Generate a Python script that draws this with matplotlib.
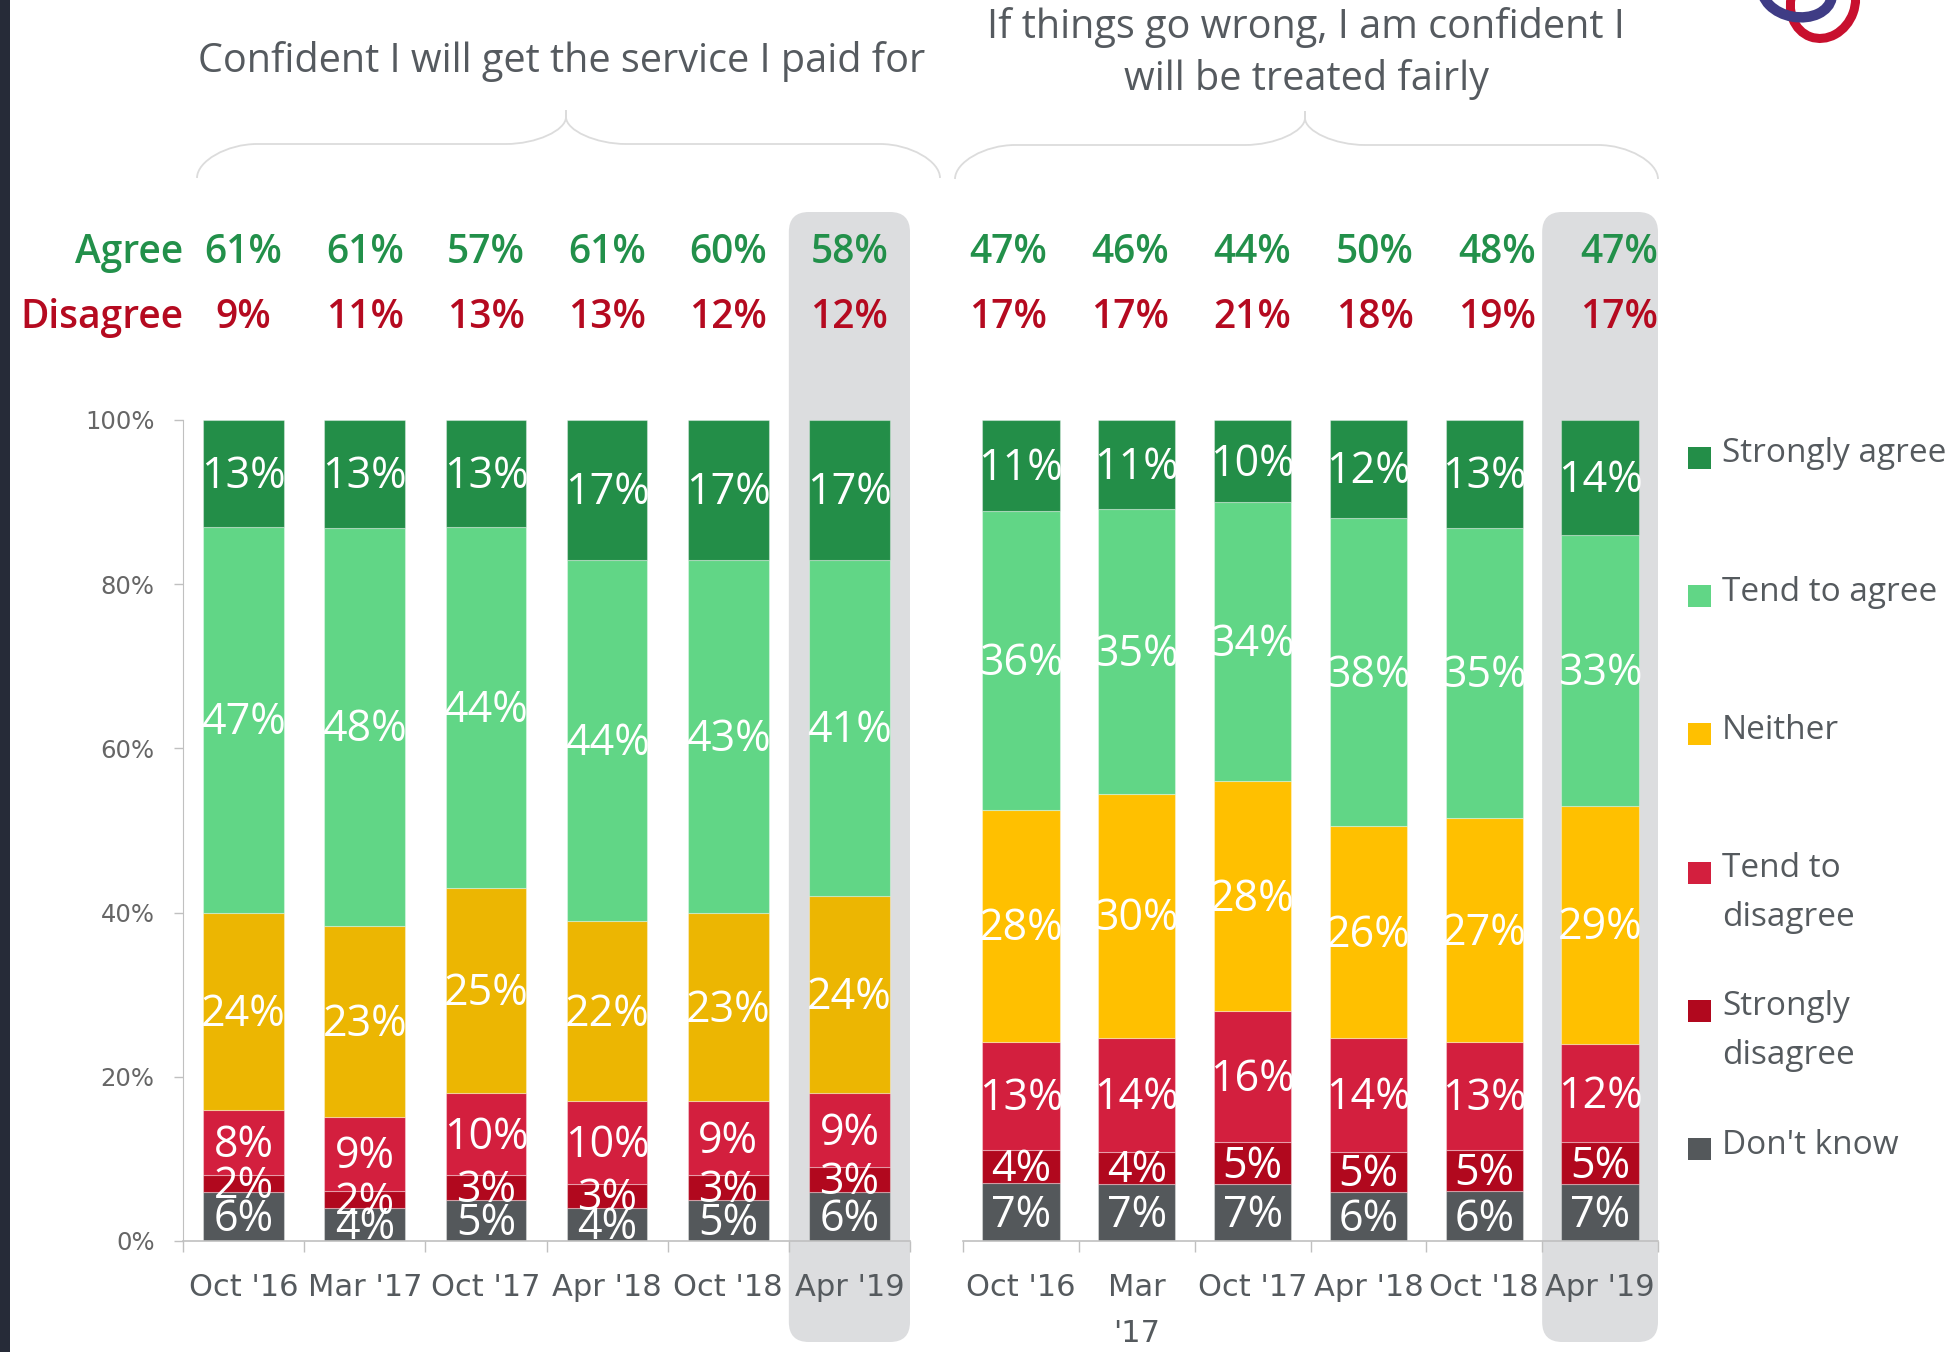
import matplotlib
matplotlib.use('Agg')
import matplotlib.pyplot as plt
import matplotlib.patches as mpatches
from matplotlib.path import Path
import numpy as np

plt.rcParams['font.family'] = ['Open Sans', 'DejaVu Sans']

# ---------------------------------------------------------------
# Data
# ---------------------------------------------------------------
periods = ["Oct '16", "Mar '17", "Oct '17", "Apr '18", "Oct '18", "Apr '19"]
periods_right = ["Oct '16", "Mar\n'17", "Oct '17", "Apr '18", "Oct '18", "Apr '19"]

title_left = "Confident I will get the service I paid for"
title_right = "If things go wrong, I am confident I\nwill be treated fairly"

legend_labels = ['Strongly agree', 'Tend to agree', 'Neither',
                 'Tend to\ndisagree', 'Strongly\ndisagree', "Don't know"]

# Confident I will get the service I paid for
service_strongly_agree = [13, 13, 13, 17, 17, 17]
service_tend_agree = [47, 48, 44, 44, 43, 41]
service_neither = [24, 23, 25, 22, 23, 24]
service_tend_disagree = [8, 9, 10, 10, 9, 9]
service_strongly_disagree = [2, 2, 3, 3, 3, 3]
service_dont_know = [6, 4, 5, 4, 5, 6]
service_agree = [61, 61, 57, 61, 60, 58]
service_disagree = [9, 11, 13, 13, 12, 12]

# If things go wrong, I am confident I will be treated fairly
fair_strongly_agree = [11, 11, 10, 12, 13, 14]
fair_tend_agree = [36, 35, 34, 38, 35, 33]
fair_neither = [28, 30, 28, 26, 27, 29]
fair_tend_disagree = [13, 14, 16, 14, 13, 12]
fair_strongly_disagree = [4, 4, 5, 5, 5, 5]
fair_dont_know = [7, 7, 7, 6, 6, 7]
fair_agree = [47, 46, 44, 50, 48, 47]
fair_disagree = [17, 17, 21, 18, 19, 17]

# colours (top of legend first)
c_sa = '#238e48'
c_ta = '#61d686'
c_ne = '#ffc000'
c_ne_left = '#ecb602'
c_td = '#d31f3e'
c_sd = '#b1081e'
c_dk = '#54585b'
legend_colors = [c_sa, c_ta, c_ne, c_td, c_sd, c_dk]

green_txt = '#22904a'
red_txt = '#b50a20'
grey_txt = '#555a5e'
axis_col = '#c0c0c0'
highlight = '#dcdddf'

W, H = 1953, 1352
fig = plt.figure(figsize=(W / 100, H / 100), dpi=100)

# decoration layer in pixel coordinates
deco = fig.add_axes([0, 0, 1, 1], zorder=0)
deco.set_xlim(0, W)
deco.set_ylim(H, 0)
deco.axis('off')

ax_bottom = 1241
ax_top = 420
axL = fig.add_axes([183 / W, (H - ax_bottom) / H, 727 / W, (ax_bottom - ax_top) / H], zorder=2)
axR = fig.add_axes([963 / W, (H - ax_bottom) / H, 695 / W, (ax_bottom - ax_top) / H], zorder=2)


def draw_group(ax, stacks, colors, labels, agree, disagree, px_width, head_spread=1.0):
    x = np.arange(len(labels))
    totals = np.sum(stacks, axis=0).astype(float)
    bottom = np.zeros(len(labels))
    for vals, col in zip(stacks, colors):
        h = np.array(vals) / totals * 100
        ax.bar(x, h, 0.667, bottom=bottom, color=col,
               edgecolor=(1, 1, 1, 0.35), linewidth=0.8, zorder=2)
        for xi, b, hi, v in zip(x, bottom, h, vals):
            ax.text(xi, b + hi / 2 - 0.4, '%d%%' % v, ha='center', va='center',
                    color='white', fontsize=31, zorder=3)
        bottom += h

    ax.set_xlim(-0.5, 5.5)
    ax.set_ylim(0, 100)
    ax.set_facecolor('none')

    # highlighted latest wave
    px_x = px_width / 6.0
    px_y = (ax_bottom - ax_top) / 100.0
    y0 = (ax_bottom - 1342) / px_y
    y1 = (ax_bottom - 212) / px_y
    box = mpatches.FancyBboxPatch((4.5, y0), 1.0, y1 - y0,
                                  boxstyle='round,pad=0,rounding_size=%f' % (20 / px_x),
                                  mutation_aspect=px_x / px_y,
                                  facecolor=highlight, edgecolor='none',
                                  clip_on=False, zorder=0)
    ax.add_patch(box)

    # agree / disagree totals
    hx = 2.0 + (x - 2.0) * head_spread
    for xi, a, d in zip(hx, agree, disagree):
        ax.text(xi, 119.1, '%d%%' % a, ha='center', va='baseline', color=green_txt,
                fontsize=28, fontweight='semibold', clip_on=False, zorder=3)
        ax.text(xi, 111.2, '%d%%' % d, ha='center', va='baseline', color=red_txt,
                fontsize=28, fontweight='semibold', clip_on=False, zorder=3)

    ax.set_xticks(x)
    ax.set_xticklabels(labels, fontfamily='DejaVu Sans', fontsize=22,
                       color=grey_txt, linespacing=1.75, va='top')
    ax.tick_params(axis='x', which='major', length=0, pad=23)
    ax.set_xticks(np.arange(-0.5, 6, 1), minor=True)
    ax.tick_params(axis='x', which='minor', length=8, width=1, color=axis_col)
    for s in ['top', 'right', 'left']:
        ax.spines[s].set_visible(False)
    ax.spines['bottom'].set_color(axis_col)
    ax.spines['bottom'].set_linewidth(1.2)


draw_group(axL,
           [service_dont_know, service_strongly_disagree, service_tend_disagree,
            service_neither, service_tend_agree, service_strongly_agree],
           [c_dk, c_sd, c_td, c_ne_left, c_ta, c_sa],
           periods, service_agree, service_disagree, 727)
draw_group(axR,
           [fair_dont_know, fair_strongly_disagree, fair_tend_disagree,
            fair_neither, fair_tend_agree, fair_strongly_agree],
           [c_dk, c_sd, c_td, c_ne, c_ta, c_sa],
           periods_right, fair_agree, fair_disagree, 695, head_spread=1.055)

# y axis only on the left chart
axL.spines['left'].set_visible(True)
axL.spines['left'].set_color(axis_col)
axL.set_yticks([0, 20, 40, 60, 80, 100])
axL.set_yticklabels(['0%', '20%', '40%', '60%', '80%', '100%'],
                    fontfamily='DejaVu Sans', fontsize=17.5, color='#666666')
axL.tick_params(axis='y', length=6.5, width=1, color=axis_col, pad=14)
axR.set_yticks([])

axL.text(0.0, 119.1, 'Agree', transform=axL.get_yaxis_transform(), ha='right',
         va='baseline', color=green_txt, fontsize=28, fontweight='semibold', clip_on=False)
axL.text(0.0, 111.2, 'Disagree', transform=axL.get_yaxis_transform(), ha='right',
         va='baseline', color=red_txt, fontsize=28, fontweight='semibold', clip_on=False)

# titles
deco.text(562, 72, title_left, ha='center', va='baseline', fontsize=28.5, color='#555a5f')
for i, line in enumerate(title_right.split('\n')):
    deco.text(1306, 38 + i * 52, line, ha='center', va='baseline', fontsize=28.5, color='#555a5f')


# curly braces above the two groups
def brace(x0, x1, xm, ytop, ymid, ybot, r=60, rc=60):
    k = 0.5
    verts = [(x0, ybot),
             (x0, ybot - (ybot - ymid) * k), (x0 + r * (1 - k), ymid), (x0 + r, ymid),
             (xm - rc, ymid),
             (xm - rc * (1 - k), ymid), (xm, ymid - (ymid - ytop - 7) * (1 - k)), (xm, ytop + 7),
             (xm, ytop),
             (xm, ytop + 7),
             (xm, ymid - (ymid - ytop - 7) * (1 - k)), (xm + rc * (1 - k), ymid), (xm + rc, ymid),
             (x1 - r, ymid),
             (x1 - r * (1 - k), ymid), (x1, ybot - (ybot - ymid) * k), (x1, ybot)]
    codes = [Path.MOVETO, Path.CURVE4, Path.CURVE4, Path.CURVE4, Path.LINETO,
             Path.CURVE4, Path.CURVE4, Path.CURVE4, Path.LINETO, Path.LINETO,
             Path.CURVE4, Path.CURVE4, Path.CURVE4, Path.LINETO,
             Path.CURVE4, Path.CURVE4, Path.CURVE4]
    deco.add_patch(mpatches.PathPatch(Path(verts, codes), facecolor='none',
                                      edgecolor='#dcdcdc', linewidth=1.3))


brace(197, 940, 566, 110, 144, 178)
brace(955, 1658, 1305, 111, 145, 179)

# legend
for i, (lab, col) in enumerate(zip(legend_labels, legend_colors)):
    yc = 458 + i * 138.2
    deco.add_patch(mpatches.Rectangle((1688, yc - 11), 23, 22, facecolor=col, edgecolor='none'))
    for j, line in enumerate(lab.split('\n')):
        deco.text(1722, yc - 4 + j * 49, line, ha='left', va='center',
                  fontsize=24, color=grey_txt)

# dark strip on the left edge
deco.add_patch(mpatches.Rectangle((0, 0), 10, H, facecolor='#262b38', edgecolor='none'))

# logo fragment at top right
deco.add_patch(mpatches.Ellipse((1823, 2), 64, 74, angle=20, fill=False,
                                edgecolor='#c8102e', linewidth=6.5))
deco.add_patch(mpatches.Ellipse((1797, -8), 70, 50, angle=10, fill=False,
                                edgecolor='#3f3c85', linewidth=7.5))

plt.savefig('out.png', dpi=100)
